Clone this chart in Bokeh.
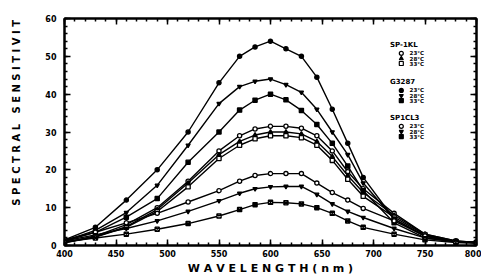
from bokeh.plotting import figure
from bokeh.models import Range1d, SingleIntervalTicker, LinearAxis, Label
from bokeh.embed import file_html
from bokeh.resources import INLINE

wavelength = [400, 430, 460, 490, 520, 550, 570, 585, 600, 615, 630, 645, 660, 675, 690, 720, 750, 780, 800]

g3287_23 = [1.5, 4.8, 12, 20, 30, 43, 50, 52.5, 54, 52, 50, 44.5, 36, 27, 18, 7, 2.5, 1, 0.8]
g3287_28 = [1.2, 4, 8.7, 15.9, 26.5, 37.5, 42, 43.4, 44, 42.5, 40.5, 36, 30, 24, 16.5, 7, 2.5, 1, 0.8]
g3287_33 = [1.2, 3.5, 7.5, 12.4, 22, 30, 35.8, 38.4, 40, 38.5, 35.7, 32, 27, 21, 14.5, 6, 2, 1, 0.8]

sp1kl_23 = [0.8, 2.5, 5.5, 10, 17, 25, 29, 30.8, 31.5, 31.5, 31, 29, 25, 19.5, 15, 8.5, 3, 1.2, 0.8]
sp1kl_28 = [0.8, 2.3, 5, 9.5, 16.5, 24, 27.5, 29.2, 30, 30, 29.5, 27.5, 23.5, 18.5, 14, 8, 3, 1.2, 0.8]
sp1kl_33 = [0.7, 2.2, 4.8, 9, 15.5, 23, 26.5, 28.2, 29, 29, 28.5, 26.5, 22.5, 17.5, 13, 7.5, 2.8, 1.1, 0.8]

sp1cl3_23 = [1.5, 3.5, 6, 8.5, 11.5, 14.5, 17, 18.5, 19, 19, 19, 16.5, 14, 12, 9.8, 6.5, 2.5, 1, 0.8]
sp1cl3_28 = [1.2, 2.8, 4.5, 6.5, 9, 11.8, 13.8, 15, 15.5, 15.6, 15.6, 13.5, 11, 9, 7.4, 4.5, 2, 1, 0.8]
sp1cl3_33 = [1, 2, 3, 4.3, 5.8, 7.8, 9.5, 10.8, 11.4, 11.3, 11, 10, 8.5, 6.5, 4.8, 3, 1.5, 0.8, 0.6]

groups = ["SP-1KL", "G3287", "SP1CL3"]
temps = ["23°C", "28°C", "33°C"]

series = [
    (sp1kl_23, "circle", "white"),
    (sp1kl_28, "triangle", "black"),
    (sp1kl_33, "square", "white"),
    (g3287_23, "circle", "black"),
    (g3287_28, "inverted_triangle", "black"),
    (g3287_33, "square", "black"),
    (sp1cl3_23, "circle", "white"),
    (sp1cl3_28, "inverted_triangle", "black"),
    (sp1cl3_33, "square_x", "white"),
]

FONT = "DejaVu Sans"
NB = "\u00a0"

p = figure(width=481, height=278, output_backend="svg", toolbar_location=None,
           x_range=Range1d(400, 800), y_range=Range1d(0, 60),
           min_border_left=64, min_border_right=5, min_border_top=18, min_border_bottom=33)
p.background_fill_color = "white"
p.border_fill_color = "white"
p.grid.visible = False
p.outline_line_color = "black"
p.outline_line_width = 2

for vals, mk, fc in series:
    p.line(wavelength, vals, line_color="black", line_width=1.4)
    p.scatter(wavelength, vals, marker=mk, size=4.2, line_color="black",
              fill_color=fc, line_width=1.3)

def style_axis(ax, labels=True):
    ax.axis_line_color = "black"
    ax.axis_line_width = 2
    ax.major_tick_in = 6
    ax.major_tick_out = 0
    ax.minor_tick_in = 3
    ax.minor_tick_out = 0
    ax.major_tick_line_width = 1.5
    ax.minor_tick_line_width = 1.5
    ax.major_label_text_font = FONT
    ax.major_label_text_font_style = "bold"
    if labels:
        ax.major_label_text_font_size = "8px"
        ax.major_label_text_color = "black"
    else:
        ax.major_label_text_font_size = "0px"
        ax.major_label_text_color = None
        ax.major_label_standoff = 0

p.xaxis.ticker = SingleIntervalTicker(interval=50, num_minor_ticks=5)
p.yaxis.ticker = SingleIntervalTicker(interval=10, num_minor_ticks=5)
style_axis(p.xaxis[0])
style_axis(p.yaxis[0])
p.xaxis.major_label_standoff = 4
p.yaxis.major_label_standoff = 8

p.xaxis.axis_label = "W A V E L E N G T H ( n m )"
p.yaxis.axis_label = NB * 11 + "S P E C T R A L" + NB * 3 + "S E N S I T I V I T"
for ax in (p.xaxis[0], p.yaxis[0]):
    ax.axis_label_text_font = FONT
    ax.axis_label_text_font_style = "bold"
    ax.axis_label_text_font_size = "10px"
    ax.axis_label_text_color = "black"
p.xaxis.axis_label_text_font_size = "11px"
p.xaxis.axis_label_standoff = 2
p.yaxis.axis_label_standoff = 20

top = LinearAxis(ticker=SingleIntervalTicker(interval=50, num_minor_ticks=5))
style_axis(top, labels=False)
p.add_layout(top, "above")
right = LinearAxis(ticker=SingleIntervalTicker(interval=10, num_minor_ticks=5))
style_axis(right, labels=False)
p.add_layout(right, "right")

# legend block (positions in data units)
head_y = [52.9, 43.1, 33.6]
row_dy = [2.1, 3.5, 4.8]
leg_x_head = 716
leg_x_mark = 727
leg_x_text = 735
for gi, g in enumerate(groups):
    p.add_layout(Label(x=leg_x_head, y=head_y[gi], text=g, text_font=FONT,
                       text_font_style="bold", text_font_size="7px",
                       text_baseline="middle", text_color="black"))
    for ti, t in enumerate(temps):
        yy = head_y[gi] - row_dy[ti]
        _, mk, fc = series[gi * 3 + ti]
        p.scatter([leg_x_mark], [yy], marker=mk, size=4, line_color="black",
                  fill_color=fc, line_width=1.2)
        p.add_layout(Label(x=leg_x_text, y=yy, text=t, text_font=FONT,
                           text_font_style="bold", text_font_size="5.5px",
                           text_baseline="middle", text_color="black"))

open("out.html", "w").write(file_html(p, INLINE))
